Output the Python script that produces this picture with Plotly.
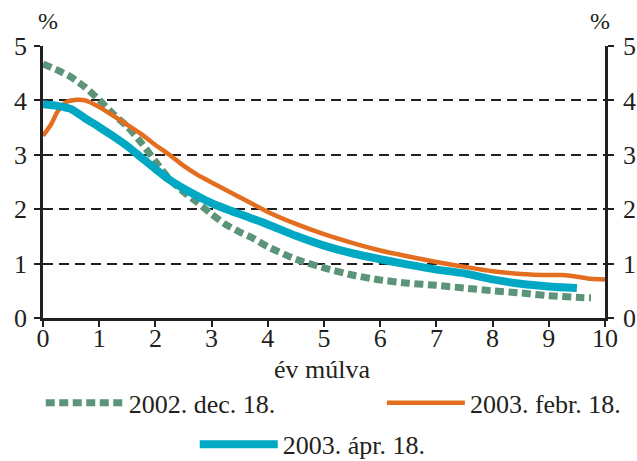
import plotly.graph_objects as go

# --- data -------------------------------------------------------------
dec_x = [0, 0.25, 0.5, 0.75, 1.0, 1.25, 1.5, 1.75, 2.0, 2.25, 2.5, 2.75, 3.0, 3.25, 3.5, 3.75,
         4.0, 4.5, 5.0, 5.5, 6.0, 6.5, 7.0, 7.5, 8.0, 8.5, 9.0, 9.5, 9.75]
dec_y = [4.67, 4.56, 4.43, 4.24, 4.01, 3.75, 3.52, 3.22, 2.88, 2.55, 2.32, 2.12, 1.91, 1.72, 1.58, 1.46,
         1.31, 1.08, 0.92, 0.79, 0.70, 0.64, 0.60, 0.55, 0.50, 0.46, 0.41, 0.38, 0.37]

feb_x = [0, 0.15, 0.25, 0.4, 0.6, 0.75, 1.0, 1.25, 1.5, 1.75, 2.0, 2.25, 2.5, 2.75, 3.0, 3.5,
         4.0, 4.5, 5.0, 5.5, 6.0, 6.5, 7.0, 7.5, 8.0, 8.5, 9.0, 9.25, 9.5, 9.75, 10.0]
feb_y = [3.35, 3.57, 3.78, 3.96, 4.01, 4.00, 3.88, 3.72, 3.55, 3.38, 3.18, 3.00, 2.80, 2.63, 2.49, 2.22,
         1.95, 1.73, 1.54, 1.38, 1.24, 1.13, 1.03, 0.94, 0.86, 0.81, 0.79, 0.79, 0.76, 0.72, 0.71]

apr_x = [0, 0.25, 0.5, 0.75, 1.0, 1.25, 1.5, 1.75, 2.0, 2.25, 2.5, 2.75, 3.0, 3.5,
         4.0, 4.5, 5.0, 5.5, 6.0, 6.5, 7.0, 7.5, 8.0, 8.5, 9.0, 9.5]
apr_y = [3.93, 3.90, 3.84, 3.67, 3.51, 3.34, 3.16, 2.95, 2.74, 2.54, 2.38, 2.24, 2.11, 1.91,
         1.72, 1.51, 1.33, 1.19, 1.08, 0.98, 0.89, 0.82, 0.71, 0.63, 0.58, 0.55]

x_ticks = list(range(0, 11))
y_ticks = [0, 1, 2, 3, 4, 5]
names = ["2002. dec. 18.", "2003. febr. 18.", "2003. ápr. 18."]
x_title = "év múlva"
unit = "%"

GREEN = "#5B9478"
ORANGE = "#E36E1F"
CYAN = "#00A8C3"
INK = "#231F20"
FONT = "Liberation Serif"
FS = 26

fig = go.Figure()
fig.add_trace(go.Scatter(x=dec_x, y=dec_y, mode="lines", name=names[0],
                         line=dict(color=GREEN, width=7, dash="9px,4.5px", shape="spline", smoothing=0.6),
                         legend="legend"))
fig.add_trace(go.Scatter(x=feb_x, y=feb_y, mode="lines", name=names[1],
                         line=dict(color=ORANGE, width=4.5, shape="spline", smoothing=0.6),
                         legend="legend2"))
fig.add_trace(go.Scatter(x=apr_x, y=apr_y, mode="lines", name=names[2],
                         line=dict(color=CYAN, width=8, shape="spline", smoothing=0.6),
                         legend="legend3"))
# invisible trace to drive the right-hand axis
fig.add_trace(go.Scatter(x=[0], y=[0], yaxis="y2", mode="markers", marker=dict(opacity=0),
                         showlegend=False, hoverinfo="skip"))

leg_common = dict(orientation="h", xanchor="left", yanchor="top", itemwidth=78,
                  font=dict(size=FS, family=FONT, color=INK), bgcolor="rgba(0,0,0,0)")

fig.update_layout(
    width=637, height=461,
    margin=dict(l=43, r=32, t=46, b=143, autoexpand=False),
    paper_bgcolor="white", plot_bgcolor="white",
    font=dict(family=FONT, size=FS, color=INK),
    hovermode=False,
    xaxis=dict(range=[0, 10], tickvals=x_ticks, showgrid=False, zeroline=False,
               showline=True, linecolor=INK, linewidth=2.5,
               ticks="outside", ticklen=6, tickwidth=2, tickcolor=INK,
               ticklabelstandoff=-11),
    yaxis=dict(range=[0, 5], tickvals=y_ticks, showgrid=True, gridcolor=INK,
               gridwidth=2, griddash="10px,6px", zeroline=False,
               showline=True, linecolor=INK, linewidth=2.5,
               ticks="outside", ticklen=6, tickwidth=2, tickcolor=INK,
               ticklabelstandoff=2),
    yaxis2=dict(range=[0, 5], tickvals=y_ticks, overlaying="y", side="right",
                showgrid=False, zeroline=False, showline=True, linecolor=INK, linewidth=2.5,
                ticks="outside", ticklen=6, tickwidth=2, tickcolor=INK,
                ticklabelstandoff=4),
    legend=dict(x=-0.0040, y=-0.226, **leg_common),
    legend2=dict(x=0.6030, y=-0.226, **leg_common),
    legend3=dict(x=0.2700, y=-0.378, **leg_common),
    showlegend=True,
    annotations=[
        dict(text=x_title, xref="paper", yref="paper", x=0.497, y=-0.19,
             xanchor="center", yanchor="middle", showarrow=False, font=dict(size=FS)),
        dict(text=unit, xref="paper", yref="paper", x=0.009, y=1.0, yshift=25,
             xanchor="center", yanchor="middle", showarrow=False, font=dict(size=24)),
        dict(text=unit, xref="paper", yref="paper", x=0.991, y=1.0, yshift=25,
             xanchor="center", yanchor="middle", showarrow=False, font=dict(size=24)),
    ],
)

fig.write_html("out.html", config={"displayModeBar": False},
               post_script="document.body.style.margin='0';")
